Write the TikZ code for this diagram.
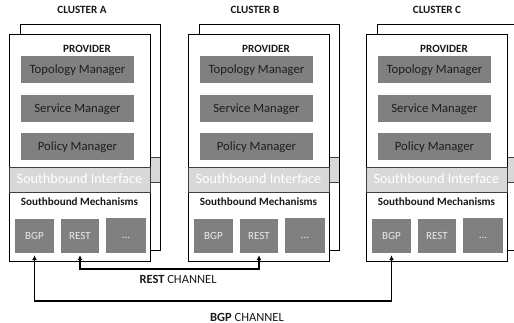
\documentclass[tikz,border=0pt]{standalone}
\usepackage{fontspec}
\setmainfont{Carlito}
\usetikzlibrary{arrows.meta}
\definecolor{boxgray}{RGB}{128,128,128}
\definecolor{bandgray}{RGB}{216,216,216}
\definecolor{bandline}{RGB}{64,64,64}
\definecolor{mgrtext}{RGB}{30,30,30}
\definecolor{mechtext}{RGB}{235,235,235}
\begin{document}
\begin{tikzpicture}[x=1pt,y=-1pt,
  frame/.style={rectangle, draw=black, fill=white, line width=0.8pt, inner sep=0pt},
  band/.style={rectangle, draw=bandline, fill=bandgray, line width=0.8pt, inner sep=0pt, text=white,
    font=\fontsize{14.2}{16}\selectfont, text height=9pt, text depth=0pt},
  mgr/.style={rectangle, fill=boxgray, inner sep=0pt, minimum width=113pt, minimum height=27pt,
    text=mgrtext, font=\fontsize{12.7}{14}\selectfont, text height=8pt, text depth=0pt},
  mech/.style={rectangle, fill=boxgray, inner sep=0pt, minimum height=34pt,
    text=mechtext, font=\fontsize{11}{13}\selectfont, text height=7pt, text depth=0pt},
  title/.style={anchor=base, inner sep=0pt, font=\fontsize{11.1}{13}\selectfont\bfseries, text=black!90},
  chlabel/.style={anchor=base, inner sep=0pt, font=\fontsize{12.5}{14}\selectfont, text=black!90},
  chan/.style={line width=1.4pt, arrows={Latex[length=5pt,width=5pt]-Latex[length=5pt,width=5pt]},
    shorten <=2pt, shorten >=2pt}
]
\useasboundingbox (0,0) rectangle (514,323);
\clip (0,0) rectangle (514,323);

\foreach \dx/\n in {0/A,179/B,357/C}{
  % back layer
  \node[frame, minimum width=140pt, minimum height=226pt] (back\n) at (90+\dx,137) {};
  \node[band, minimum width=140pt, minimum height=25pt] (backband\n) at (90+\dx,169.5) {};
  \draw[line width=0.8pt] (back\n.north east) -- (back\n.south east);
  % front layer
  \node[frame, minimum width=141pt, minimum height=227pt] (fr\n) at (79.5+\dx,147.5) {};
  \node[title] (prov\n) at (87+\dx,52.5) {PROVIDER};
  \node[mgr] (topo\n) at (77.5+\dx,69.5) {Topology Manager};
  \node[mgr] (serv\n) at (77.5+\dx,108.5) {Service Manager};
  \node[mgr] (pol\n) at (77.5+\dx,146.5) {Policy Manager};
  \node[band, minimum width=141pt, minimum height=25pt] (sbi\n) at (79.5+\dx,179.5) {Southbound Interface};
  \node[title] (sbm\n) at (79.5+\dx,205.5) {Southbound Mechanisms};
  \node[mech, minimum width=39pt] (bgp\n) at (34.5+\dx,236) {BGP};
  \node[mech, minimum width=38pt] (rest\n) at (80+\dx,236) {REST};
  \node[mech, minimum width=40pt, minimum height=35pt] (dots\n) at (126+\dx,235.5) {...};
}

\node[title] (clA) at (82,13.5) {CLUSTER A};
\node[title] (clB) at (255,13.5) {CLUSTER B};
\node[title] (clC) at (437,13.5) {CLUSTER C};

\coordinate (restY) at (0,269);
\coordinate (bgpY) at (0,301);
\draw[chan] (restA.south) -- (restA.south |- restY) -| (restB.south);
\draw[chan] (bgpA.south) -- (bgpA.south |- bgpY) -| (bgpC.south);

\node[chlabel] (restlab) at (178,283) {\textbf{REST} CHANNEL};
\node[chlabel] (bgplab) at (247,321) {\textbf{BGP} CHANNEL};
\end{tikzpicture}
\end{document}
